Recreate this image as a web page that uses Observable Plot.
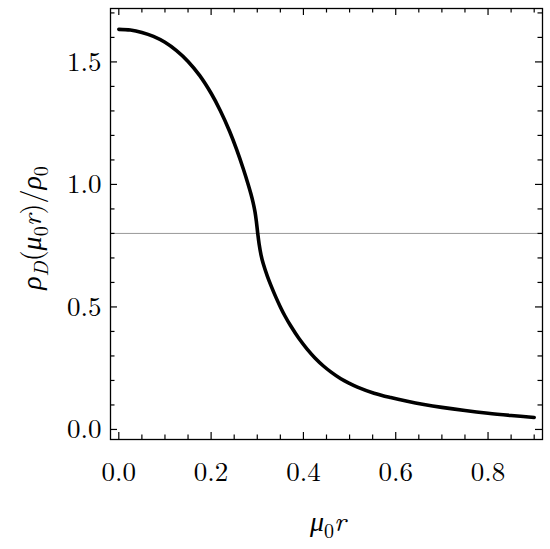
<!DOCTYPE html>
<html lang="en">
<head>
<meta charset="UTF-8">
<title>rho_D profile</title>
<script src="https://cdn.jsdelivr.net/npm/d3@7"></script>
<script src="https://cdn.jsdelivr.net/npm/@observablehq/plot@0.6"></script>
<style>
  body { margin: 0; background: #fff; }
  #chart svg { display: block; }
</style>
</head>
<body>
<div id="chart"></div>
<script>
// curve: mu0 r  ->  rho_D / rho_0
const muR = [0, 0.025, 0.05, 0.075, 0.1, 0.125, 0.15, 0.175, 0.2, 0.22, 0.24, 0.255, 0.27, 0.28,
  0.286, 0.291, 0.295, 0.298, 0.301, 0.304, 0.308, 0.313, 0.322, 0.33, 0.34, 0.35, 0.36, 0.372, 0.39, 0.408, 0.425,
  0.444, 0.46, 0.481, 0.5, 0.517, 0.553, 0.589, 0.625, 0.661, 0.7, 0.75, 0.8, 0.85, 0.9];
const rhoRatio = [1.633, 1.63, 1.62, 1.604, 1.58, 1.546, 1.502, 1.445, 1.372, 1.301, 1.217, 1.144, 1.062, 1.002,
  0.963, 0.926, 0.889, 0.85, 0.8, 0.757, 0.714, 0.676, 0.625, 0.586, 0.541, 0.5, 0.463, 0.424, 0.372, 0.328, 0.292,
  0.258, 0.234, 0.207, 0.188, 0.173, 0.148, 0.13, 0.115, 0.102, 0.09, 0.077, 0.066, 0.057, 0.049];
const refLevel = 0.8;

const xMajor = [0, 0.2, 0.4, 0.6, 0.8];
const xMinor = [0.05, 0.1, 0.15, 0.25, 0.3, 0.35, 0.45, 0.5, 0.55, 0.65, 0.7, 0.75, 0.85, 0.9];
const yMajor = [0, 0.5, 1.0, 1.5];
const yMinor = [0.1, 0.2, 0.3, 0.4, 0.6, 0.7, 0.8, 0.9, 1.1, 1.2, 1.3, 1.4, 1.6, 1.7];

const curve = muR.map((x, i) => ({x, y: rhoRatio[i]}));
const font = "'Latin Modern Roman','CMU Serif','Liberation Serif','DejaVu Serif',serif";

const W = 550, H = 549, mT = 8, mR = 8, mB = 110, mL = 110;
const xDom = [-0.018, 0.918], yDom = [-0.041, 1.718];
// pixel tick length -> data units
const pxX = (xDom[1] - xDom[0]) / (W - mL - mR);
const pxY = (yDom[1] - yDom[0]) / (H - mT - mB);

// inward ticks on all four sides
function xTicks(values, len) {
  const opts = {x: d => d, stroke: "black", strokeWidth: 1.2};
  return [
    Plot.ruleX(values, {...opts, y1: yDom[0], y2: yDom[0] + len * pxY}),
    Plot.ruleX(values, {...opts, y1: yDom[1], y2: yDom[1] - len * pxY})
  ];
}
function yTicks(values, len) {
  const opts = {y: d => d, stroke: "black", strokeWidth: 1.2};
  return [
    Plot.ruleY(values, {...opts, x1: xDom[0], x2: xDom[0] + len * pxX}),
    Plot.ruleY(values, {...opts, x1: xDom[1], x2: xDom[1] - len * pxX})
  ];
}

const svg = Plot.plot({
  width: W,
  height: H,
  marginTop: mT,
  marginRight: mR,
  marginBottom: mB,
  marginLeft: mL,
  style: {fontFamily: font, background: "white"},
  x: {domain: xDom, axis: null},
  y: {domain: yDom, axis: null},
  marks: [
    Plot.ruleY([refLevel], {stroke: "#999", strokeWidth: 1}),
    Plot.line(curve, {x: "x", y: "y", stroke: "black", strokeWidth: 3.6, curve: "catmull-rom"}),
    Plot.frame({stroke: "black", strokeWidth: 1.3}),
    ...xTicks(xMajor, 7), ...xTicks(xMinor, 4.5),
    ...yTicks(yMajor, 7), ...yTicks(yMinor, 4.5),
    Plot.axisX({ticks: xMajor, tickSize: 0, tickPadding: 22, tickFormat: d3.format(".1f"), fontSize: 27, label: null}),
    Plot.axisY({ticks: yMajor, tickSize: 0, tickPadding: 9, tickFormat: d3.format(".1f"), fontSize: 27, label: null})
  ]
});

// math-style axis titles with subscripts
function mathText(parent, parts, attrs) {
  const t = parent.append("text")
    .attr("font-family", font).attr("font-size", 28).attr("fill", "black")
    .attr("text-anchor", "middle");
  Object.entries(attrs).forEach(([k, v]) => t.attr(k, v));
  let shift = 0;
  parts.forEach(p => {
    const s = t.append("tspan").text(p.t);
    if (p.i) s.attr("font-style", "italic");
    const want = p.sub ? 7 : 0;
    if (want !== shift) { s.attr("dy", want - shift); shift = want; }
    if (p.sub) s.attr("font-size", 20);
  });
  return t;
}

const root = d3.select(svg);
mathText(root, [{t: "μ", i: true}, {t: "0", sub: true}, {t: "r", i: true}],
  {x: 328, y: 531});
mathText(root, [
  {t: "ρ", i: true}, {t: "D", i: true, sub: true}, {t: "("}, {t: "μ", i: true}, {t: "0", sub: true},
  {t: "r", i: true}, {t: ")/"}, {t: "ρ", i: true}, {t: "0", sub: true}
], {transform: "translate(41,228) rotate(-90)"});

document.getElementById("chart").appendChild(svg);
</script>
</body>
</html>
